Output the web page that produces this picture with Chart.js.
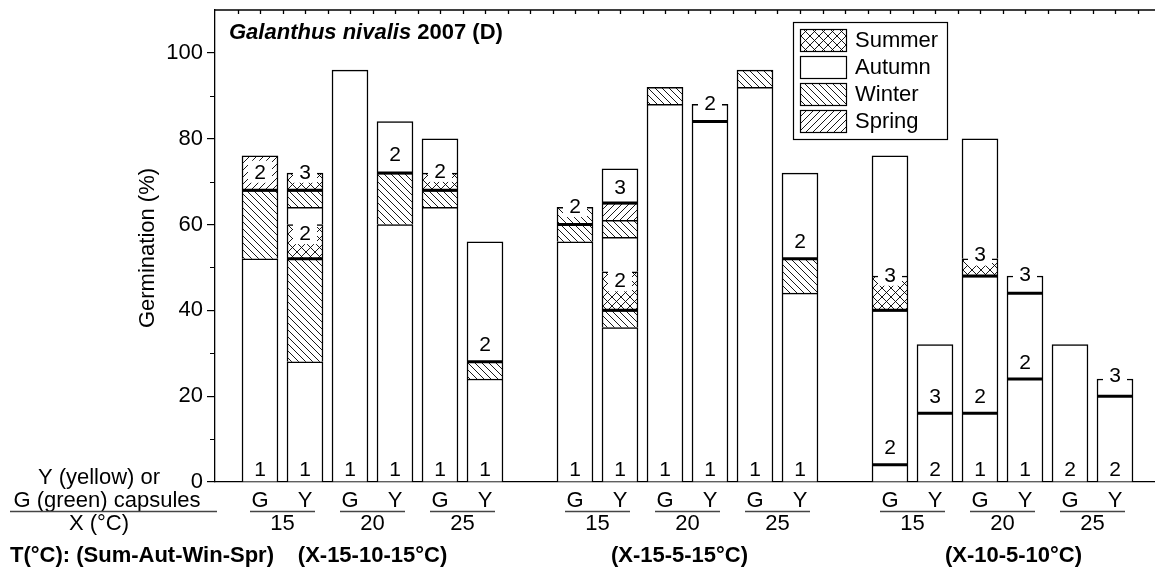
<!DOCTYPE html>
<html>
<head>
<meta charset="utf-8">
<script src="https://cdn.jsdelivr.net/npm/chart.js@4.4.1/dist/chart.umd.min.js"></script>
<style>
  html, body { margin: 0; padding: 0; background: #fff; overflow: hidden; }
  canvas { display: block; }
</style>
</head>
<body>
<canvas id="germChart" width="1155" height="577"></canvas>
<script>
// ===== DATA =====
const capsules = ["G", "Y"];
const temps = ["15", "20", "25"];
const regimes = ["(X-15-10-15°C)", "(X-15-5-15°C)", "(X-10-5-10°C)"];

// germination ranges [from, to] per bar (18 bars: regime > temp > capsule)
const summer = [
  [], [[52, 60], [68, 72]], [], [], [[68, 72]], [],
  [], [[40, 49]], [], [], [], [],
  [[40, 48]], [], [[48, 52]], [], [], []
];
const autumn = [
  [[0, 52]], [[0, 28], [60, 64]], [[0, 96]], [[0, 60], [72, 84]], [[0, 64], [72, 80]], [[0, 24], [28, 56]],
  [[0, 56]], [[0, 36], [49, 57], [65, 73]], [[0, 88]], [[0, 88]], [[0, 92]], [[0, 44], [52, 72]],
  [[0, 40], [48, 76]], [[0, 32]], [[0, 48], [52, 80]], [[0, 48]], [[0, 32]], [[0, 24]]
];
const winter = [
  [[52, 68]], [[28, 52], [64, 68]], [], [[60, 72]], [[64, 68]], [[24, 28]],
  [[56, 64]], [[36, 40], [57, 61]], [[88, 92]], [], [[92, 96]], [[44, 52]],
  [], [], [], [], [], []
];
const spring = [
  [[68, 76]], [], [], [], [], [],
  [], [[61, 65]], [], [], [], [],
  [], [], [], [], [], []
];

// end of each year (thick lines)
const yearEnds = [
  [68], [52, 68], [], [72], [68], [28],
  [60], [40, 65], [], [84], [], [52],
  [4, 40], [16], [16, 48], [24, 44], [], [20]
];

// year labels [text, level]
const yearMarks = [
  [["1", 3], ["2", 72.3]], [["1", 3], ["2", 58], ["3", 72.3]], [["1", 3]],
  [["1", 3], ["2", 76.5]], [["1", 3], ["2", 72.5]], [["1", 3], ["2", 32.2]],
  [["1", 3], ["2", 64.3]], [["1", 3], ["2", 47], ["3", 68.8]], [["1", 3]],
  [["1", 3], ["2", 88.3]], [["1", 3]], [["1", 3], ["2", 56.2]],
  [["2", 8], ["3", 48.3]], [["2", 3], ["3", 20]], [["1", 3], ["2", 20], ["3", 53]],
  [["1", 3], ["2", 28], ["3", 48.5]], [["2", 3]], [["2", 3], ["3", 25]]
];

const FONT = "'Liberation Sans', Arial, sans-serif";
const canvas = document.getElementById("germChart");
const mainCtx = canvas.getContext("2d");

// bar slot on the x axis: 6 bars per regime, one empty slot between regimes
const barPos = autumn.map((_, i) => 1 + Math.floor(i / 6) * 7 + (i % 6));
const regimeShift = [0, -8, 11]; // nudge of the bottom regime captions (px)

function hatch(kind, s) {
  const c = document.createElement("canvas");
  c.width = s; c.height = s;
  const g = c.getContext("2d");
  g.fillStyle = "#fff";
  g.fillRect(0, 0, s, s);
  g.strokeStyle = "#000";
  g.lineWidth = 0.9;
  g.beginPath();
  if (kind === "back" || kind === "cross") {
    for (const o of [-s, 0, s]) { g.moveTo(o, 0); g.lineTo(o + s, s); }
  }
  if (kind === "fwd" || kind === "cross") {
    for (const o of [-s, 0, s]) { g.moveTo(o, s); g.lineTo(o + s, 0); }
  }
  g.stroke();
  return mainCtx.createPattern(c, "repeat");
}

const seasons = [
  { name: "Summer", ranges: summer, fill: hatch("cross", 9) },
  { name: "Autumn", ranges: autumn, fill: "#fff" },
  { name: "Winter", ranges: winter, fill: hatch("back", 7) },
  { name: "Spring", ranges: spring, fill: hatch("fwd", 7) }
];

const datasets = [];
seasons.forEach(s => {
  const layers = Math.max(...s.ranges.map(r => r.length));
  for (let k = 0; k < layers; k++) {
    datasets.push({
      label: s.name,
      data: s.ranges.map((r, i) => r[k] ? { x: barPos[i], y: r[k] } : null).filter(Boolean),
      backgroundColor: s.fill,
      borderColor: "#000",
      borderWidth: { top: 1.5, left: 1.5, right: 1.5, bottom: 0 },
      borderSkipped: false,
      barThickness: 36,
      grouped: false
    });
  }
});

// ===== DECORATION =====
const decor = {
  id: "decor",
  afterDatasetsDraw(chart) {
    const ctx = chart.ctx;
    const xs = chart.scales.x, ys = chart.scales.y;
    ctx.save();
    // thick year lines
    ctx.strokeStyle = "#000";
    ctx.lineWidth = 3;
    yearEnds.forEach((lv, i) => {
      const x = xs.getPixelForValue(barPos[i]);
      lv.forEach(v => {
        const y = ys.getPixelForValue(v);
        ctx.beginPath();
        ctx.moveTo(x - 18, y);
        ctx.lineTo(x + 18, y);
        ctx.stroke();
      });
    });
    // year numbers
    ctx.font = `21px ${FONT}`;
    ctx.textAlign = "center";
    ctx.textBaseline = "middle";
    yearMarks.forEach((marks, i) => {
      const x = xs.getPixelForValue(barPos[i]);
      marks.forEach(([txt, lvl]) => {
        const y = ys.getPixelForValue(lvl);
        ctx.fillStyle = "#fff";
        ctx.fillRect(x - 12, y - 11, 24, 22);
        ctx.fillStyle = "#000";
        ctx.fillText(txt, x, y + 1);
      });
    });
    ctx.restore();
  },
  afterDraw(chart) {
    const ctx = chart.ctx;
    const xs = chart.scales.x, ys = chart.scales.y;
    const area = chart.chartArea;
    ctx.save();
    ctx.fillStyle = "#000";
    ctx.strokeStyle = "#000";

    // top frame with small ticks
    ctx.lineWidth = 1.3;
    ctx.beginPath();
    ctx.moveTo(area.left, area.top);
    ctx.lineTo(area.right, area.top);
    for (let v = 0.5; v < xs.max; v += 0.5) {
      const x = Math.round(xs.getPixelForValue(v)) + 0.5;
      ctx.moveTo(x, area.top);
      ctx.lineTo(x, area.top + 4);
    }
    ctx.stroke();

    // minor y ticks (shorter)
    ctx.lineWidth = 1.2;
    ctx.beginPath();
    ys.ticks.forEach(t => {
      if (t.value % 20 !== 0 && t.value < 100) {
        const y = Math.round(ys.getPixelForValue(t.value)) + 0.5;
        ctx.moveTo(area.left - 5, y);
        ctx.lineTo(area.left, y);
      }
    });
    ctx.stroke();

    // title
    ctx.textBaseline = "middle";
    ctx.textAlign = "left";
    ctx.font = `italic bold 22px ${FONT}`;
    const sp = "Galanthus nivalis";
    ctx.fillText(sp, 229, 33);
    const w = ctx.measureText(sp).width;
    ctx.font = `bold 22px ${FONT}`;
    ctx.fillText(" 2007 (D)", 229 + w, 33);

    // y title
    ctx.save();
    ctx.translate(148, 248);
    ctx.rotate(-Math.PI / 2);
    ctx.textAlign = "center";
    ctx.font = `22px ${FONT}`;
    ctx.fillText("Germination (%)", 0, 0);
    ctx.restore();

    // legend
    ctx.lineWidth = 1.2;
    ctx.strokeRect(793.5, 22.5, 154, 117);
    seasons.forEach((s, k) => {
      const y = 29 + k * 27;
      ctx.fillStyle = s.fill;
      ctx.fillRect(800, y, 47, 23);
      ctx.strokeRect(800.5, y + 0.5, 46, 22);
      ctx.fillStyle = "#000";
      ctx.font = `22px ${FONT}`;
      ctx.textAlign = "left";
      ctx.fillText(s.name, 855, y + 12);
    });

    // x labels: capsule, temperature, regime
    ctx.textAlign = "center";
    regimes.forEach((reg, g) => {
      temps.forEach((t, ti) => {
        const i0 = g * 6 + ti * 2;
        const xa = xs.getPixelForValue(barPos[i0]);
        const xb = xs.getPixelForValue(barPos[i0 + 1]);
        ctx.font = `22px ${FONT}`;
        ctx.fillText(capsules[0], xa, 501);
        ctx.fillText(capsules[1], xb, 501);
        ctx.strokeStyle = "#444";
        ctx.lineWidth = 1.6;
        ctx.beginPath();
        ctx.moveTo(xa - 10, 511.5);
        ctx.lineTo(xb + 10, 511.5);
        ctx.stroke();
        ctx.fillText(t, (xa + xb) / 2, 524);
      });
      const gc = (xs.getPixelForValue(barPos[g * 6]) + xs.getPixelForValue(barPos[g * 6 + 5])) / 2;
      ctx.font = `bold 22px ${FONT}`;
      ctx.fillText(reg, gc + regimeShift[g], 556);
    });

    // left side captions
    ctx.font = `22px ${FONT}`;
    ctx.fillText("Y (yellow) or", 99, 478);
    ctx.fillText("G (green) capsules", 107, 501);
    ctx.fillText("X (°C)", 99, 524);
    ctx.strokeStyle = "#444";
    ctx.lineWidth = 1.6;
    ctx.beginPath();
    ctx.moveTo(10, 511.5);
    ctx.lineTo(217, 511.5);
    ctx.stroke();
    ctx.textAlign = "left";
    ctx.font = `bold 22px ${FONT}`;
    ctx.fillText("T(°C): (Sum-Aut-Win-Spr)", 10, 556);
    ctx.restore();
  }
};

// ===== CHART =====
new Chart(canvas, {
  type: "bar",
  data: { datasets },
  options: {
    responsive: false,
    animation: false,
    devicePixelRatio: 1,
    layout: { padding: { top: 10, bottom: 95, left: 0, right: 0 } },
    plugins: { legend: { display: false }, tooltip: { enabled: false } },
    scales: {
      x: {
        type: "linear",
        offset: false,
        min: 0,
        max: 940 / 45,
        ticks: { display: false },
        grid: { display: false, drawTicks: false, offset: false },
        border: { display: true, color: "#000", width: 1.3 },
        afterFit: s => { s.height = 0; s.paddingLeft = 0; s.paddingRight = 0; }
      },
      y: {
        min: 0,
        max: 110,
        ticks: {
          stepSize: 10,
          padding: 4,
          color: "#000",
          font: { family: FONT, size: 22 },
          callback: v => (v % 20 === 0 && v <= 100 ? String(v) : "")
        },
        grid: {
          drawOnChartArea: false,
          tickLength: 8,
          lineWidth: 1.2,
          color: c => (c.tick && c.tick.value % 20 === 0 && c.tick.value <= 100 ? "#000" : "rgba(0,0,0,0)")
        },
        border: { color: "#000", width: 1.3 },
        afterFit: s => { s.width = 215; s.paddingTop = 0; s.paddingBottom = 0; }
      }
    }
  },
  plugins: [decor]
});
</script>
</body>
</html>
